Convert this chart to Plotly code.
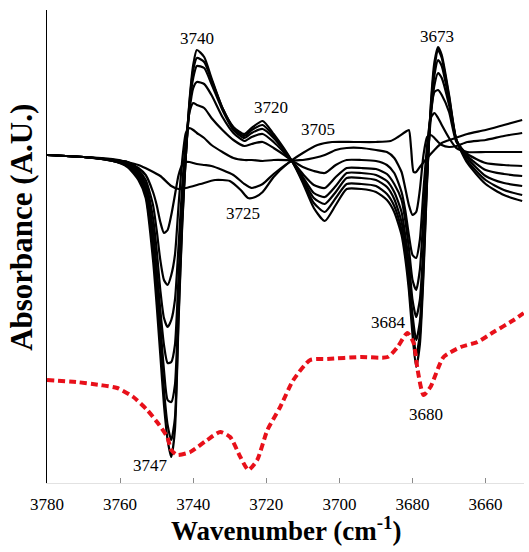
import plotly.graph_objects as go

# Wavenumber grid for the family of black difference spectra (curves 2-8)
wn_grid = [3780, 3770, 3762, 3758, 3755, 3753, 3751, 3750, 3749, 3748,
           3747, 3746, 3745, 3744, 3743, 3742, 3741, 3740, 3739, 3737,
           3735, 3732, 3729, 3726, 3724, 3721, 3718, 3713, 3710, 3707,
           3704, 3701, 3698, 3694, 3690, 3687, 3685, 3683, 3682, 3681,
           3680, 3679, 3678, 3677, 3676, 3675, 3674, 3673, 3672, 3670,
           3668, 3665, 3660, 3655, 3650]

abs_c2 = [0.00, -0.02, -0.05, -0.07, -0.13, -0.20, -0.37, -0.50, -0.67, -0.78,
          -0.75, -0.60, -0.40, -0.20, -0.10, -0.07, -0.07, -0.08, -0.09, -0.10,
          -0.11, -0.15, -0.20, -0.29, -0.33, -0.29, -0.19, -0.06, -0.05, -0.03,
          0.00, 0.05, 0.07, 0.07, 0.05, 0.03, -0.03, -0.17, -0.33, -0.50,
          -0.60, -0.57, -0.35, 0.00, 0.18, 0.20, 0.17, 0.13, 0.10, 0.08,
          0.09, 0.13, 0.15, 0.19, 0.22]
abs_c3 = [0.00, -0.02, -0.05, -0.07, -0.15, -0.25, -0.50, -0.75, -1.05, -1.25,
          -1.30, -1.20, -1.00, -0.50, -0.05, 0.22, 0.27, 0.25, 0.22, 0.17,
          0.10, 0.03, -0.03, -0.05, -0.05, -0.06, -0.05, -0.06, -0.12, -0.16,
          -0.18, -0.10, -0.05, -0.05, -0.06, -0.10, -0.18, -0.37, -0.55, -0.80,
          -1.00, -1.03, -0.85, -0.35, 0.10, 0.37, 0.42, 0.37, 0.30, 0.17,
          0.07, 0.03, 0.03, 0.03, 0.03]
abs_c4 = [0.00, -0.02, -0.05, -0.08, -0.17, -0.29, -0.63, -0.95, -1.35, -1.63,
          -1.72, -1.65, -1.45, -0.90, -0.30, 0.15, 0.43, 0.52, 0.50, 0.47,
          0.37, 0.25, 0.15, 0.09, 0.11, 0.13, 0.07, -0.06, -0.19, -0.30,
          -0.33, -0.22, -0.13, -0.13, -0.14, -0.19, -0.29, -0.45, -0.65, -0.93,
          -1.25, -1.35, -1.15, -0.60, 0.00, 0.43, 0.63, 0.65, 0.60, 0.43,
          0.13, 0.01, -0.08, -0.10, -0.11]
abs_c5 = [0.00, -0.02, -0.05, -0.09, -0.19, -0.33, -0.75, -1.13, -1.55, -1.90,
          -2.08, -2.07, -1.90, -1.20, -0.50, 0.05, 0.45, 0.67, 0.73, 0.71,
          0.60, 0.38, 0.22, 0.14, 0.18, 0.21, 0.13, -0.06, -0.22, -0.38,
          -0.42, -0.31, -0.18, -0.18, -0.20, -0.26, -0.37, -0.57, -0.80, -1.07,
          -1.45, -1.62, -1.45, -0.90, -0.17, 0.37, 0.70, 0.82, 0.77, 0.50,
          0.15, -0.01, -0.15, -0.19, -0.21]
abs_c6 = [0.00, -0.02, -0.06, -0.10, -0.21, -0.37, -0.85, -1.25, -1.70, -2.15,
          -2.45, -2.47, -2.30, -1.45, -0.60, 0.00, 0.50, 0.77, 0.89, 0.87,
          0.71, 0.45, 0.25, 0.17, 0.22, 0.26, 0.17, -0.06, -0.24, -0.43,
          -0.49, -0.37, -0.23, -0.23, -0.25, -0.32, -0.44, -0.67, -0.90, -1.20,
          -1.60, -1.85, -1.67, -1.03, -0.20, 0.43, 0.80, 0.95, 0.89, 0.55,
          0.15, -0.03, -0.21, -0.28, -0.31]
abs_c7 = [0.00, -0.02, -0.06, -0.11, -0.23, -0.40, -0.95, -1.37, -1.85, -2.35,
          -2.70, -2.85, -2.63, -1.60, -0.67, 0.00, 0.53, 0.85, 0.97, 0.93,
          0.75, 0.47, 0.27, 0.19, 0.25, 0.30, 0.19, -0.06, -0.26, -0.48,
          -0.57, -0.43, -0.29, -0.29, -0.31, -0.39, -0.51, -0.75, -0.97, -1.28,
          -1.70, -2.00, -1.80, -1.13, -0.23, 0.47, 0.87, 1.05, 0.97, 0.58,
          0.15, -0.06, -0.25, -0.35, -0.40]
abs_c8 = [0.00, -0.02, -0.06, -0.12, -0.25, -0.43, -1.05, -1.50, -2.00, -2.50,
          -2.85, -3.02, -2.75, -1.65, -0.70, 0.00, 0.55, 0.90, 1.05, 0.98,
          0.77, 0.47, 0.28, 0.21, 0.27, 0.34, 0.21, -0.06, -0.28, -0.53,
          -0.66, -0.50, -0.34, -0.34, -0.37, -0.45, -0.57, -0.80, -1.03, -1.35,
          -1.80, -2.12, -1.90, -1.20, -0.25, 0.50, 0.93, 1.08, 1.00, 0.60,
          0.15, -0.08, -0.29, -0.40, -0.46]

# Smallest black spectrum (curve 1)
wn_c1 = [3780, 3770, 3762, 3758, 3755, 3752, 3749, 3746, 3744, 3742,
         3738, 3734, 3730, 3727, 3725, 3723, 3721, 3718, 3714, 3710,
         3706, 3702, 3696, 3690, 3686, 3684, 3682, 3681, 3680.4, 3679.7,
         3679, 3678, 3676, 3674, 3672, 3669, 3665, 3660, 3655, 3650]
abs_c1 = [0.00, -0.02, -0.04, -0.07, -0.10, -0.15, -0.21, -0.31, -0.34, -0.33,
          -0.29, -0.25, -0.26, -0.35, -0.43, -0.42, -0.37, -0.22, -0.08, 0.02,
          0.10, 0.13, 0.13, 0.13, 0.14, 0.18, 0.23, 0.25, 0.07, -0.17,
          -0.17, -0.12, -0.03, 0.05, 0.12, 0.16, 0.21, 0.25, 0.30, 0.35]

# Red dotted reference spectrum
wn_red = [3780, 3772, 3765.5, 3760.8, 3756.4, 3752.6, 3749.9, 3747.1, 3746, 3744.4,
          3740.8, 3736.2, 3732.6, 3729.9, 3727.1, 3724.9, 3722.5, 3719.7, 3716.2, 3712.6,
          3708, 3703.3, 3694.2, 3686.8, 3684.1, 3681.4, 3679.7, 3678.6, 3677, 3675.1,
          3671.5, 3666.8, 3662.2, 3657.8, 3652.3, 3649.6]
abs_red = [-2.25, -2.27, -2.30, -2.33, -2.42, -2.55, -2.67, -2.82, -2.95, -3.00,
           -2.97, -2.85, -2.77, -2.82, -3.02, -3.15, -3.05, -2.75, -2.52, -2.25,
           -2.05, -2.04, -2.02, -2.02, -1.92, -1.78, -1.88, -2.15, -2.40, -2.32,
           -2.02, -1.92, -1.87, -1.77, -1.65, -1.58]

tick_vals = [3780, 3760, 3740, 3720, 3700, 3680, 3660]

peak_labels = ["3740", "3720", "3705", "3673", "3725", "3747", "3684", "3680"]
peak_x = [3738.9, 3718.6, 3705.8, 3673.4, 3726.3, 3751.8, 3686.6, 3676.4]
peak_y = [1.17, 0.48, 0.26, 1.19, -0.58, -3.10, -1.67, -2.59]

SERIF = "Liberation Serif, Times New Roman, serif"

fig = go.Figure()

fig.add_trace(go.Scatter(x=wn_c1, y=abs_c1, mode="lines",
                         line=dict(color="black", width=2.2, shape="spline", smoothing=0.6),
                         showlegend=False))
for series in [abs_c2, abs_c3, abs_c4, abs_c5, abs_c6, abs_c7, abs_c8]:
    fig.add_trace(go.Scatter(x=wn_grid, y=series, mode="lines",
                             line=dict(color="black", width=2.2, shape="spline", smoothing=0.6),
                             showlegend=False))

fig.add_trace(go.Scatter(x=wn_red, y=abs_red, mode="lines",
                         line=dict(color="#e8101a", width=4, dash="7px,4px",
                                   shape="spline", smoothing=0.6),
                         showlegend=False))

for t, xv, yv in zip(peak_labels, peak_x, peak_y):
    fig.add_annotation(x=xv, y=yv, xref="x", yref="y", text=t, showarrow=False,
                       font=dict(family=SERIF, size=17, color="black"),
                       xanchor="center", yanchor="middle")

fig.add_annotation(x=0.5, y=-0.097, xref="paper", yref="paper",
                   text="<b>Wavenumber (cm<sup>-1</sup>)</b>", showarrow=False,
                   font=dict(family=SERIF, size=27, color="black"),
                   xanchor="center", yanchor="middle")
fig.add_annotation(x=-0.055, y=0.541, xref="paper", yref="paper",
                   text="<b>Absorbance (A.U.)</b>", showarrow=False, textangle=-90,
                   font=dict(family=SERIF, size=31, color="black"),
                   xanchor="center", yanchor="middle")

fig.update_layout(
    width=529, height=552,
    margin=dict(l=47, r=5, t=10, b=69),
    paper_bgcolor="white", plot_bgcolor="white",
    xaxis=dict(range=[3780, 3649.5], tickvals=tick_vals,
               ticks="inside", ticklen=5, tickcolor="#8a8a8a",
               showline=True, linecolor="#e2e2e2", linewidth=1,
               showgrid=False, zeroline=False,
               tickfont=dict(family=SERIF, size=17, color="black"),
               ticklabelstandoff=6),
    yaxis=dict(range=[-3.28, 1.45], showticklabels=False, ticks="",
               showline=True, linecolor="black", linewidth=1,
               showgrid=False, zeroline=False),
)

fig.write_html("out.html")
